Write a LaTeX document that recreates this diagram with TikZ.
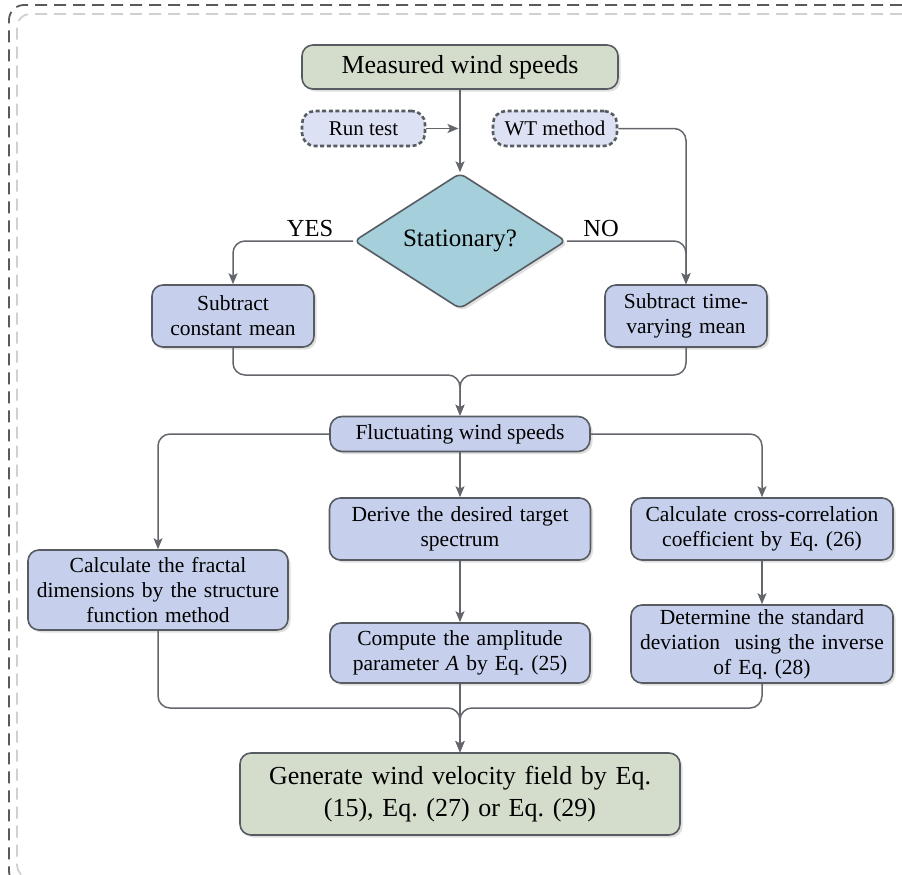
\documentclass[tikz,border=0pt]{standalone}
\usepackage{fontspec}
\setmainfont{Liberation Serif}
\usetikzlibrary{shapes.geometric,arrows.meta,shadows}
\frenchspacing
\definecolor{boxgreen}{HTML}{D4DDCB}
\definecolor{boxblue}{HTML}{C6D0EC}
\definecolor{dashfill}{HTML}{DCE1F4}
\definecolor{diafill}{HTML}{A4CFDB}
\definecolor{bordc}{HTML}{575C63}
\definecolor{linec}{HTML}{63666B}
\definecolor{framedark}{HTML}{5A5A5A}
\definecolor{framelight}{HTML}{D0D0D0}
\tikzset{
  shad/.style={drop shadow={shadow xshift=2.5pt,shadow yshift=-2.5pt,fill=black!25,opacity=.5}},
  box/.style={draw=bordc, line width=1.6pt, rounded corners=11pt, align=center, inner sep=2pt, shad},
  bluebox/.style={box, fill=boxblue, font=\fontsize{21.5}{25}\selectfont},
  greenbox/.style={box, fill=boxgreen, font=\fontsize{26}{32}\selectfont},
  dbox/.style={draw=bordc, line width=2.6pt, dash pattern=on 4pt off 2.6pt, fill=dashfill, rounded corners=13pt, align=center, inner sep=2pt, font=\fontsize{21}{24}\selectfont},
  conn/.style={draw=linec, line width=1.5pt, rounded corners=12pt},
  arr/.style={conn, -{Stealth[length=11pt,width=9pt,inset=2.5pt]}},
  lbl/.style={font=\fontsize{24.5}{28}\selectfont, inner sep=0pt},
  framestyle/.style={line width=1.8pt, dash pattern=on 12pt off 7pt}
}
\begin{document}
\begin{tikzpicture}[x=1pt,y=-1pt]
\useasboundingbox (0,0) rectangle (902,875);
% frame (right and bottom sides lie outside the picture)
\begin{scope}
\clip (0,0) rectangle (902,875);
\draw[framestyle, framedark, rounded corners=15pt] (902,5) -- (9,5) -- (9,886) -- (902,886);
\draw[framestyle, framelight, rounded corners=13pt] (902,14) -- (17,14) -- (17,878) -- (902,878);
\end{scope}

% nodes
\node[greenbox, minimum width=316pt, minimum height=44pt] (meas) at (460,67) {Measured wind speeds};
\node[dbox, minimum width=123pt, minimum height=35pt] (run) at (363.5,128.5) {Run test};
\node[dbox, minimum width=124pt, minimum height=35pt] (wt) at (555,128.5) {WT method};
\node[diamond, draw=bordc, line width=1.6pt, fill=diafill, minimum width=212pt, minimum height=114pt, inner sep=0pt, rounded corners=6pt, shad, font=\fontsize{25}{30}\selectfont] (stat) at (460,241) {Stationary?};
\node[bluebox, minimum width=162pt, minimum height=62pt, text width=150pt] (sub1) at (233,316) {Subtract\\constant mean};
\node[bluebox, minimum width=162pt, minimum height=62pt, text width=150pt] (sub2) at (686,316) {Subtract time-\\varying mean};
\node[bluebox, minimum width=260pt, minimum height=35pt, rounded corners=12pt] (fl) at (460,434) {Fluctuating wind speeds};
\node[bluebox, minimum width=260pt, minimum height=80pt, text width=250pt] (frac) at (158,590) {Calculate the fractal\\dimensions by the structure\\function method};
\node[bluebox, minimum width=261pt, minimum height=62pt, text width=250pt] (der) at (460,529) {Derive the desired target\\spectrum};
\node[bluebox, minimum width=260pt, minimum height=60pt, text width=250pt] (comp) at (460,653) {Compute the amplitude\\parameter \textit{A} by Eq. (25)};
\node[bluebox, minimum width=262pt, minimum height=62pt, text width=252pt] (cross) at (762,529) {Calculate cross-correlation\\coefficient by Eq. (26)};
\node[bluebox, minimum width=262pt, minimum height=78pt, text width=252pt] (det) at (762,644) {Determine the standard\\deviation~ using the inverse\\of Eq. (28)};
\node[greenbox, minimum width=440pt, minimum height=82pt, text width=430pt] (gen) at (460,794) {Generate wind velocity field by Eq.\\(15), Eq. (27) or Eq. (29)};

\node[lbl] (yes) at (310,229) {YES};
\node[lbl] (no) at (601,229) {NO};

% connectors
\coordinate (runend) at (458.5,128.5);
\coordinate (m1) at (460,375);
\coordinate (m2) at (460,708);
\draw[arr] (meas.south) -- (stat.north);
\draw[arr] (run.east) -- (runend);
\draw[arr] (wt.east) -| (sub2.north);
\draw[arr] (stat.east) -| (sub2.north);
\draw[arr] (stat.west) -| (sub1.north);
\draw[arr] (sub1.south) |- (m1) -- (fl.north);
\draw[arr] (sub2.south) |- (m1) -- (fl.north);
\draw[arr] (fl.west) -| (frac.north);
\draw[arr] (fl.east) -| (cross.north);
\draw[arr] (fl.south) -- (der.north);
\draw[arr] (der.south) -- (comp.north);
\draw[arr] (cross.south) -- (det.north);
\draw[arr] (frac.south) |- (m2) -- (gen.north);
\draw[arr] (det.south) |- (m2) -- (gen.north);
\draw[arr] (comp.south) -- (gen.north);
\end{tikzpicture}
\end{document}
